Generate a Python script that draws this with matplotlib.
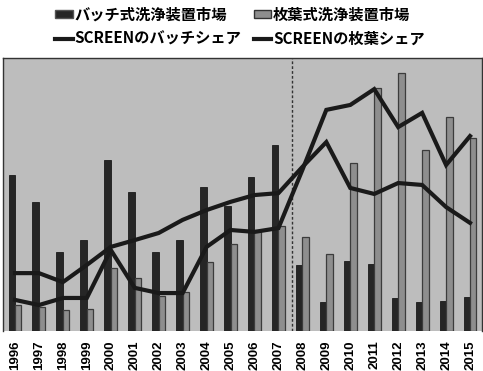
import matplotlib
matplotlib.use("Agg")
import matplotlib.pyplot as plt
import numpy as np
from matplotlib.patches import Patch
from matplotlib.lines import Line2D

plt.rcParams['font.family'] = ['Noto Sans CJK JP', 'DejaVu Sans']

years = [str(y) for y in range(1996, 2016)]
batch_market = [57.1, 47.3, 28.9, 33.3, 62.6, 50.9, 28.9, 33.3, 52.7, 45.8,
                56.4, 68.1, 24.2, 10.6, 25.6, 24.5, 12.1, 10.6, 11.0, 12.5]
single_market = [9.5, 8.8, 7.7, 8.1, 23.1, 19.4, 12.8, 14.3, 25.3, 31.9,
                 37.0, 38.5, 34.4, 28.2, 61.5, 89.0, 94.5, 66.3, 78.4, 70.7]
screen_batch_share = [21.2, 21.2, 17.9, 24.2, 30.8, 33.3, 35.9, 40.7, 44.3, 47.3,
                      49.8, 50.5, 60.1, 69.2, 52.4, 50.2, 54.2, 53.5, 45.4, 39.6]
screen_single_share = [11.4, 9.5, 12.1, 12.1, 29.7, 15.8, 13.9, 13.9, 30.8, 37.0,
                       36.3, 37.7, 59.0, 81.0, 82.8, 88.6, 74.7, 79.9, 60.8, 71.4]

labels = ['バッチ式洗浄装置市場', '枚葉式洗浄装置市場',
          'SCREENのバッチシェア', 'SCREENの枚葉シェア']

fig = plt.figure(figsize=(4.83, 3.71), dpi=100)
ax = fig.add_axes([3/483, 1-331/371, 479/483, 273/371])
ax.set_facecolor('#bdbdbd')

x = np.arange(len(years))
w = 0.27
dark = '#262626'
lightc = '#8e8e8e'
ax.bar(x - w/2, batch_market, w, color=dark, edgecolor='#1a1a1a', linewidth=0.6, zorder=2)
ax.bar(x + w/2, single_market, w, color=lightc, edgecolor='#3c3c3c', linewidth=0.9, zorder=2)
ax.plot(x, screen_batch_share, color='#1a1a1a', lw=3.0, zorder=3, solid_joinstyle='miter')
ax.plot(x, screen_single_share, color='#1a1a1a', lw=3.0, zorder=3, solid_joinstyle='miter')
ax.axvline(11.58, color='#333333', lw=1.0, ls=(0, (2, 1.5)), zorder=1)

ax.set_xlim(-0.5, len(years) - 0.5)
ax.set_ylim(0, 100)
ax.set_yticks([])
ax.set_xticks(x)
ax.set_xticklabels(years, rotation=90, fontsize=9.5, fontweight='bold',
                   family=['Liberation Sans', 'DejaVu Sans'])
ax.tick_params(axis='x', length=0, pad=7)
for s in ax.spines.values():
    s.set_color('#333333')
    s.set_linewidth(1.0)
ax.spines['bottom'].set_visible(False)

handles = [Patch(facecolor=dark, edgecolor='#555555'),
           Line2D([], [], color='#1a1a1a', lw=3),
           Patch(facecolor=lightc, edgecolor='#333333'),
           Line2D([], [], color='#1a1a1a', lw=3)]
leg_labels = [labels[0], labels[2], labels[1], labels[3]]
leg = fig.legend(handles, leg_labels, loc='upper center', bbox_to_anchor=(0.497, 1.02),
                 ncol=2, frameon=False, handlelength=1.15, handleheight=0.5,
                 handletextpad=0.12, columnspacing=0.8, labelspacing=0.55,
                 prop={'family': ['Noto Sans CJK JP', 'DejaVu Sans'], 'weight': 'bold', 'size': 11})

fig.savefig('out.png', dpi=100, facecolor='white')
